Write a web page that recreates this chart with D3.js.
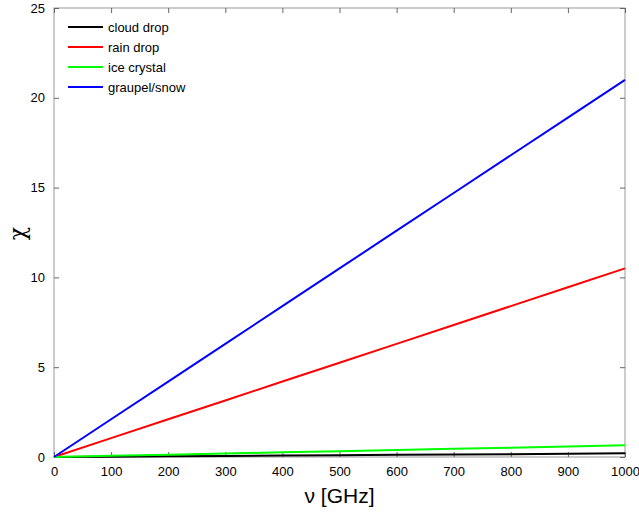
<!DOCTYPE html>
<html>
<head>
<script src="https://d3js.org/d3.v7.min.js"></script>
<style>
  body { margin: 0; background: #fff; }
  text { font-family: "Liberation Sans", Arial, sans-serif; }
</style>
</head>
<body>
<div id="chart"></div>
<script>
var freq = [0, 100, 200, 300, 400, 500, 600, 700, 800, 900, 1000];
var cloudDrop = [0, 0.02, 0.04, 0.06, 0.08, 0.10, 0.12, 0.14, 0.16, 0.18, 0.21];
var rainDrop = [0, 1.05, 2.1, 3.15, 4.2, 5.25, 6.3, 7.35, 8.4, 9.45, 10.5];
var iceCrystal = [0, 0.065, 0.13, 0.195, 0.26, 0.325, 0.39, 0.455, 0.52, 0.585, 0.65];
var graupelSnow = [0, 2.1, 4.2, 6.3, 8.4, 10.5, 12.6, 14.7, 16.8, 18.9, 21];
var seriesNames = ["cloud drop", "rain drop", "ice crystal", "graupel/snow"];
var seriesColors = ["#000000", "#ff0000", "#00ff00", "#0000ff"];
var xTicks = [0, 100, 200, 300, 400, 500, 600, 700, 800, 900, 1000];
var yTicks = [0, 5, 10, 15, 20, 25];

var width = 639, height = 516;
var m = {left: 54, right: 14, top: 8, bottom: 59};

var svg = d3.select("#chart").append("svg")
    .attr("width", width).attr("height", height);

var x = d3.scaleLinear().domain([0, 1000]).range([m.left, width - m.right]);
var y = d3.scaleLinear().domain([0, 25]).range([height - m.bottom, m.top]);

// box
svg.append("rect")
    .attr("x", x(0)).attr("y", y(25))
    .attr("width", x(1000) - x(0)).attr("height", y(0) - y(25))
    .attr("fill", "none").attr("stroke", "#999").attr("stroke-width", 1);

// inward ticks on all four sides
var xb = svg.append("g").attr("transform", "translate(0," + y(0) + ")")
    .call(d3.axisBottom(x).tickValues(xTicks).tickSize(-5).tickPadding(10).tickFormat(d3.format("d")));
var xt = svg.append("g").attr("transform", "translate(0," + y(25) + ")")
    .call(d3.axisTop(x).tickValues(xTicks).tickSize(-5).tickFormat(""));
var yl = svg.append("g").attr("transform", "translate(" + x(0) + ",0)")
    .call(d3.axisLeft(y).tickValues(yTicks).tickSize(-5).tickPadding(9));
var yr = svg.append("g").attr("transform", "translate(" + x(1000) + ",0)")
    .call(d3.axisRight(y).tickValues(yTicks).tickSize(-5).tickFormat(""));

[xb, xt, yl, yr].forEach(function (g) {
    g.select(".domain").remove();
    g.selectAll(".tick line").attr("stroke", "#666");
    g.selectAll(".tick text").attr("fill", "#000").style("font-size", "13px")
        .style("font-family", "'Liberation Sans', Arial, sans-serif");
});

var data = [cloudDrop, rainDrop, iceCrystal, graupelSnow];
var line = d3.line()
    .x(function (d, i) { return x(freq[i]); })
    .y(function (d) { return y(d); });

data.forEach(function (vals, k) {
    svg.append("path")
        .datum(vals)
        .attr("d", line)
        .attr("fill", "none")
        .attr("stroke", seriesColors[k])
        .attr("stroke-width", 2);
});

// legend
var leg = svg.append("g");
seriesNames.forEach(function (name, k) {
    var ly = 27 + k * 20;
    leg.append("line")
        .attr("x1", 68).attr("x2", 103).attr("y1", ly).attr("y2", ly)
        .attr("stroke", seriesColors[k]).attr("stroke-width", 2);
    leg.append("text")
        .attr("x", 108).attr("y", ly + 5)
        .style("font-size", "13px")
        .text(name);
});

// axis labels
svg.append("text")
    .attr("x", x(500)).attr("y", 503)
    .attr("text-anchor", "middle")
    .style("font-size", "21px")
    .text("\u03bd [GHz]");

svg.append("text")
    .attr("transform", "translate(25," + (y(12.5) + 1) + ") rotate(-90)")
    .attr("text-anchor", "middle")
    .style("font-family", "'DejaVu Serif', serif")
    .style("font-size", "22px")
    .text("\u03c7");
</script>
</body>
</html>
